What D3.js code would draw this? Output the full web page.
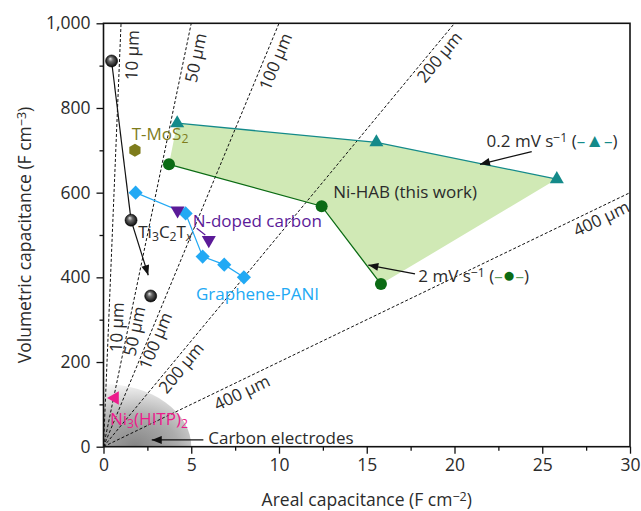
<!DOCTYPE html>
<html>
<head>
<meta charset="utf-8">
<script src="https://cdn.jsdelivr.net/npm/d3@7"></script>
<style>
  html, body { margin: 0; padding: 0; background: #fff; }
  svg { display: block; font-family: "Open Sans", "Noto Sans", sans-serif; }
</style>
</head>
<body>
<svg id="chart" width="641" height="511"></svg>
<script>
// ---------- data ----------
const xTicks = [0, 5, 10, 15, 20, 25, 30];
const yTicks = [0, 200, 400, 600, 800, 1000];
const yTickLabels = ["0", "200", "400", "600", "800", "1,000"];

// thickness guide lines (volumetric = slope * areal)
const thickLabels = ["10 µm", "50 µm", "100 µm", "200 µm", "400 µm"];
const thickSlopes = [1000, 200, 100, 50, 20];

// Ni-HAB (this work)
const habTriX = [4.2, 15.55, 25.83];
const habTriY = [764, 719, 632];
const habCircX = [3.73, 12.43, 15.81];
const habCircY = [667, 568, 384];

// Ti3C2Tx
const tiX = [0.46, 1.57, 2.69];
const tiY = [911, 535, 356];

// Graphene-PANI
const gpX = [1.83, 4.68, 5.65, 6.88, 8.0];
const gpY = [600, 551, 449, 430, 400];

// N-doped carbon
const ndX = [4.22, 6.0];
const ndY = [558, 488];

// T-MoS2
const mosX = [1.79];
const mosY = [700];

// Ni3(HITP)2
const hitpX = [0.65];
const hitpY = [115];

// ---------- layout ----------
const svg = d3.select("#chart");
const L = 103.5, R = 630, T = 23.3, B = 446.7;
const x = d3.scaleLinear().domain([0, 30]).range([L, R]);
const y = d3.scaleLinear().domain([0, 1000]).range([B, T]);
const FS = 17;

const C = {
  teal: "#148a8a", green: "#0b6b14", fill: "#d0e9b5",
  blue: "#22a9f4", purple: "#5b1a98", olive: "#7e7c1c",
  pink: "#ec1b8c", text: "#2b2b2b"
};

const defs = svg.append("defs");
defs.append("clipPath").attr("id", "plotclip")
  .append("rect").attr("x", L).attr("y", T).attr("width", R - L).attr("height", B - T);

// carbon electrode gradient
const gcx = x(1.8), gcy = y(0);
const cg = defs.append("radialGradient").attr("id", "carbonGrad")
  .attr("gradientUnits", "userSpaceOnUse")
  .attr("cx", gcx).attr("cy", gcy).attr("r", 95)
  .attr("gradientTransform", `translate(${gcx},${gcy}) scale(1,0.72) translate(${-gcx},${-gcy})`);
cg.append("stop").attr("offset", "0").attr("stop-color", "#858585");
cg.append("stop").attr("offset", "0.45").attr("stop-color", "#acacac");
cg.append("stop").attr("offset", "0.8").attr("stop-color", "#e2e2e2");
cg.append("stop").attr("offset", "1").attr("stop-color", "#ffffff");

// sphere gradient
const sg = defs.append("radialGradient").attr("id", "sphere")
  .attr("cx", "0.5").attr("cy", "0.5").attr("r", "0.55").attr("fx", "0.38").attr("fy", "0.3");
sg.append("stop").attr("offset", "0").attr("stop-color", "#e8e8e8");
sg.append("stop").attr("offset", "0.35").attr("stop-color", "#6a6a6a");
sg.append("stop").attr("offset", "1").attr("stop-color", "#000");

// arrow markers
function arrowMarker(id, color) {
  defs.append("marker").attr("id", id)
    .attr("viewBox", "0 0 10 8").attr("refX", 10).attr("refY", 4)
    .attr("markerWidth", 11).attr("markerHeight", 8)
    .attr("markerUnits", "userSpaceOnUse").attr("orient", "auto")
    .append("path").attr("d", "M0,0 L10,4 L0,8 Z").attr("fill", color);
}
arrowMarker("arrowK", "#111");

const plot = svg.append("g").attr("clip-path", "url(#plotclip)");

// carbon electrodes region (quarter ellipse)
const rxC = x(5) - x(0), ryC = y(0) - y(148);
plot.append("path")
  .attr("d", `M${x(0)},${y(0)} L${x(0) + rxC},${y(0)} A${rxC},${ryC} 0 0 0 ${x(0)},${y(0) - ryC} Z`)
  .attr("fill", "url(#carbonGrad)");

// Ni-HAB filled region
const habPoly = habTriX.map((d, i) => [d, habTriY[i]])
  .concat(habCircX.map((d, i) => [d, habCircY[i]]).reverse());
plot.append("path")
  .attr("d", d3.line().x(d => x(d[0])).y(d => y(d[1]))(habPoly) + "Z")
  .attr("fill", C.fill);

// thickness lines
thickSlopes.forEach(s => {
  const xe = Math.min(30, 1000 / s);
  plot.append("line")
    .attr("x1", x(0)).attr("y1", y(0)).attr("x2", x(xe)).attr("y2", y(s * xe))
    .attr("stroke", "#111").attr("stroke-width", 1).attr("stroke-dasharray", "3,2");
});

// thickness labels (areal position along each line where label sits)
const upperAt = [0.926, 4.62, 9.2, 18.7, 28.1];
const upperOff = [12.5, 11.5, 11.5, 10, 11];
const lowerAt = [0.283, 1.38, 2.57, 4.01, 7.6];
const lowerOff = [8.5, 7, 7.5, 9.5, 11.5];
function thickLabel(i, at, off) {
  const s = thickSlopes[i];
  const px = x(at), py = y(s * at);
  const dx = x(1) - x(0), dy = y(0) - y(s);
  const th = Math.atan2(dy, dx);
  const cx = px + off * Math.sin(th), cy = py + off * Math.cos(th);
  svg.append("text")
    .attr("transform", `translate(${cx},${cy}) rotate(${-th * 180 / Math.PI})`)
    .attr("text-anchor", "middle").attr("dy", "0.35em")
    .attr("font-size", FS).attr("fill", C.text)
    .text(thickLabels[i]);
}
thickLabels.forEach((_, i) => {
  thickLabel(i, upperAt[i], upperOff[i]);
  thickLabel(i, lowerAt[i], lowerOff[i]);
});

// Ni-HAB lines
const ln = d3.line().x(d => x(d[0])).y(d => y(d[1]));
svg.append("path").attr("d", ln(habTriX.map((d, i) => [d, habTriY[i]])))
  .attr("fill", "none").attr("stroke", C.teal).attr("stroke-width", 1.3);
svg.append("path").attr("d", ln(habCircX.map((d, i) => [d, habCircY[i]])))
  .attr("fill", "none").attr("stroke", C.green).attr("stroke-width", 1.3);

// Graphene-PANI line
svg.append("path").attr("d", ln(gpX.map((d, i) => [d, gpY[i]])))
  .attr("fill", "none").attr("stroke", C.blue).attr("stroke-width", 1.2);

// Ti3C2Tx line + arrow
svg.append("path").attr("d", ln([[tiX[0], tiY[0]], [tiX[1], tiY[1]]]))
  .attr("fill", "none").attr("stroke", "#111").attr("stroke-width", 1.2);
svg.append("line")
  .attr("x1", x(tiX[1])).attr("y1", y(tiY[1]))
  .attr("x2", x(2.55)).attr("y2", y(405))
  .attr("stroke", "#111").attr("stroke-width", 1.2).attr("marker-end", "url(#arrowK)");

// N-doped carbon pointer
svg.append("line")
  .attr("x1", x(5.31)).attr("y1", y(516)).attr("x2", x(5.8)).attr("y2", y(500))
  .attr("stroke", C.purple).attr("stroke-width", 1.2);

// annotation arrows
function arrow(x1, y1, x2, y2) {
  svg.append("line").attr("x1", x(x1)).attr("y1", y(y1)).attr("x2", x(x2)).attr("y2", y(y2))
    .attr("stroke", "#111").attr("stroke-width", 1.3).attr("marker-end", "url(#arrowK)");
}
arrow(24.4, 697, 21.45, 667);
arrow(17.75, 408, 15.09, 429);
arrow(5.69, 16, 2.75, 16);

// ---------- markers ----------
const sym = (type, size) => d3.symbol().type(type).size(size)();
svg.selectAll(".tri").data(habTriX).enter().append("path")
  .attr("d", sym(d3.symbolTriangle, 85))
  .attr("transform", (d, i) => `translate(${x(d)},${y(habTriY[i])})`)
  .attr("fill", C.teal);
svg.selectAll(".circ").data(habCircX).enter().append("circle")
  .attr("cx", d => x(d)).attr("cy", (d, i) => y(habCircY[i])).attr("r", 6)
  .attr("fill", C.green);
svg.selectAll(".dia").data(gpX).enter().append("path")
  .attr("d", sym(d3.symbolSquare, 100))
  .attr("transform", (d, i) => `translate(${x(d)},${y(gpY[i])}) rotate(45)`)
  .attr("fill", C.blue);
svg.selectAll(".nd").data(ndX).enter().append("path")
  .attr("d", sym(d3.symbolTriangle, 85))
  .attr("transform", (d, i) => `translate(${x(d)},${y(ndY[i])}) rotate(180)`)
  .attr("fill", C.purple);
svg.selectAll(".hex").data(mosX).enter().append("path")
  .attr("d", () => {
    const r = 6.5;
    return d3.range(6).map(k => {
      const a = Math.PI / 6 + k * Math.PI / 3;
      return (k ? "L" : "M") + (r * Math.cos(a)).toFixed(2) + "," + (r * Math.sin(a)).toFixed(2);
    }).join("") + "Z";
  })
  .attr("transform", (d, i) => `translate(${x(d)},${y(mosY[i])})`)
  .attr("fill", C.olive);
svg.selectAll(".hitp").data(hitpX).enter().append("path")
  .attr("d", sym(d3.symbolTriangle, 80))
  .attr("transform", (d, i) => `translate(${x(d)},${y(hitpY[i])}) rotate(-90)`)
  .attr("fill", C.pink);
svg.selectAll(".ti").data(tiX).enter().append("circle")
  .attr("cx", d => x(d)).attr("cy", (d, i) => y(tiY[i])).attr("r", 6)
  .attr("fill", "url(#sphere)").attr("stroke", "#000").attr("stroke-width", 0.6);

// ---------- text labels ----------
function label(xv, yv, color, parts, size) {
  const fs = size || FS;
  const t = svg.append("text").attr("x", x(xv)).attr("y", y(yv))
    .attr("font-size", fs).attr("fill", color);
  parts.forEach(p => {
    const s = t.append("tspan").text(p.t);
    if (p.sub) s.attr("font-size", fs * 0.72).attr("baseline-shift", "-22%");
    if (p.sup) s.attr("font-size", fs * 0.72).attr("baseline-shift", "38%");
    if (p.it) s.attr("font-style", "italic");
    if (p.c) s.attr("fill", p.c);
    if (p.fs) s.attr("font-size", p.fs);
  });
  return t;
}
label(1.98, 493, C.text, [{t: "Ti"}, {t: "3", sub: 1}, {t: "C"}, {t: "2", sub: 1}, {t: "T"}, {t: "x", sub: 1, it: 1}]);
label(5.08, 520, C.purple, [{t: "N-doped carbon"}]);
label(5.27, 346.5, C.blue, [{t: "Graphene-PANI"}]);
label(1.61, 724, C.olive, [{t: "T-MoS"}, {t: "2", sub: 1}]);
label(0.37, 51, C.pink, [{t: "Ni"}, {t: "3", sub: 1}, {t: "(HITP)"}, {t: "2", sub: 1}]);
label(13.09, 587, C.text, [{t: "Ni-HAB (this work)"}]);
label(21.83, 708.5, C.text, [{t: "0.2 mV s"}, {t: "−1", sup: 1}, {t: " ("}, {t: "–", c: C.teal}, {t: "▲", c: C.teal, fs: 19}, {t: "–", c: C.teal}, {t: ")"}]);
label(17.94, 390, C.text, [{t: "2 mV s"}, {t: "−1", sup: 1}, {t: " ("}, {t: "–", c: "#5f9b5f"}, {t: "●", c: C.green, fs: 21}, {t: "–", c: "#5f9b5f"}, {t: ")"}]);
label(5.97, 6.4, C.text, [{t: "Carbon electrodes"}]);

// ---------- axes & frame ----------
const ax = svg.append("g").attr("transform", `translate(0,${B})`)
  .call(d3.axisBottom(x).tickValues(xTicks).tickSize(7).tickPadding(5).tickFormat(d3.format("d")));
const axm = svg.append("g").attr("transform", `translate(0,${B})`)
  .call(d3.axisBottom(x).tickValues(d3.range(2.5, 30, 5)).tickSize(4).tickFormat(""));
const ay = svg.append("g").attr("transform", `translate(${L},0)`)
  .call(d3.axisLeft(y).tickValues(yTicks).tickSize(7).tickPadding(6).tickFormat((d, i) => yTickLabels[i]));
const aym = svg.append("g").attr("transform", `translate(${L},0)`)
  .call(d3.axisLeft(y).tickValues(d3.range(100, 1000, 200)).tickSize(4).tickFormat(""));
[ax, axm, ay, aym].forEach(g => {
  g.select(".domain").remove();
  g.selectAll("line").attr("stroke", "#111").attr("stroke-width", 1.3);
  g.selectAll("text").attr("font-size", 17.5).attr("fill", C.text)
    .attr("font-family", "'Open Sans', 'Noto Sans', sans-serif");
});
svg.append("rect").attr("x", L).attr("y", T).attr("width", R - L).attr("height", B - T)
  .attr("fill", "none").attr("stroke", "#111").attr("stroke-width", 1.6);

// axis titles
const xt = svg.append("text").attr("x", (L + R) / 2).attr("y", 506)
  .attr("text-anchor", "middle").attr("font-size", 17.5).attr("fill", C.text);
xt.append("tspan").text("Areal capacitance (F cm");
xt.append("tspan").text("−2").attr("font-size", 12.5).attr("baseline-shift", "38%");
xt.append("tspan").text(")");
const yt = svg.append("text").attr("transform", `translate(31,${(T + B) / 2}) rotate(-90)`)
  .attr("text-anchor", "middle").attr("font-size", 17.5).attr("fill", C.text);
yt.append("tspan").text("Volumetric capacitance (F cm");
yt.append("tspan").text("−3").attr("font-size", 12.5).attr("baseline-shift", "38%");
yt.append("tspan").text(")");
</script>
</body>
</html>
